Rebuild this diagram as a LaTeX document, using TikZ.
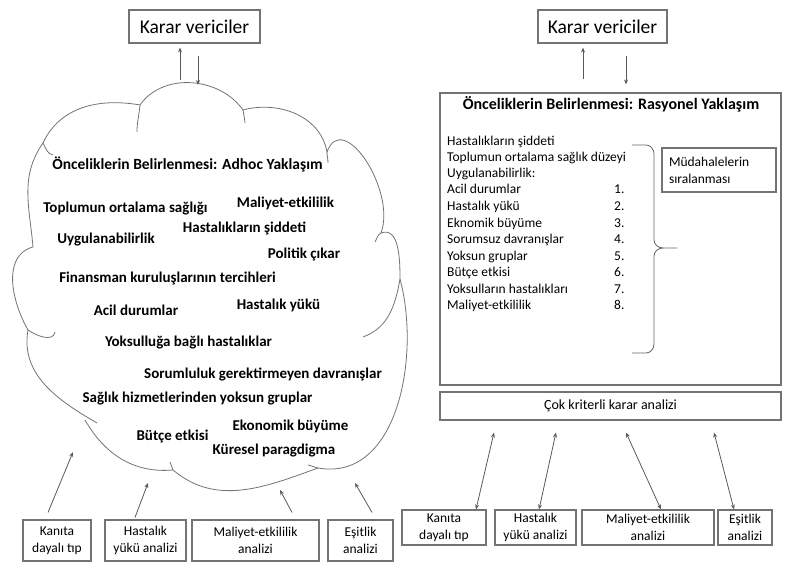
\documentclass[tikz,border=0pt]{standalone}
\usepackage{fontspec}
\setmainfont{Carlito}
\usetikzlibrary{arrows.meta}

\begin{document}
\begin{tikzpicture}[x = 1pt, y = 1pt,
  box/.style = {draw = black!55, line width = 1.1pt, align = center, inner sep = 2pt},
  cloudline/.style = {draw = black!55, line width = 0.8pt},
  arr/.style = {draw = black!65, line width = 0.8pt, -{Stealth[length = 5pt, width = 4pt]}},
  dblarr/.style = {draw = black!65, line width = 0.8pt, {Stealth[length = 5pt, width = 4pt]}-{Stealth[length = 5pt, width = 4pt]}},
  adhoc/.style = {inner sep = 0pt, font = \fontsize{15}{17}\selectfont\bfseries},
  item/.style = {anchor = west, inner sep = 0pt, text height = 10pt, text depth = 3.5pt, font = \fontsize{13.5}{15}\selectfont},
  small/.style = {font = \fontsize{13.5}{17}\selectfont}]

\useasboundingbox (0,0) rectangle (788,564);

% Ad hoc yaklasim
\node[box, minimum width = 131, minimum height = 33, font = \fontsize{19.5}{22}\selectfont] (kvl) at (194.5,537.5) {Karar vericiler};
\coordinate (ctop) at (194.5,476);
\draw[arr] ([xshift = -14.5pt, yshift = 8pt]ctop) -- ([xshift = -14.5pt, yshift = -4pt]kvl.south);
\draw[arr] ([xshift = 3.5pt, yshift = -12pt]kvl.south) -- ([xshift = 3.5pt, yshift = 3pt]ctop);

% bulut
\draw[cloudline] (43,421) to[out = 65, in = 170] (140,459)
  to[out = 55, in = 125] (243,454)
  to[out = 15, in = 100] (327,412)
  to[out = 70, in = 70, looseness = 1.2] (381,331)
  to[out = 20, in = 90] (400,285)
  to[out = -75, in = -10] (318,96)
  to[out = -160, in = -40] (173,94)
  to[out = 185, in = -60] (85,144);
\draw[cloudline] (97,141) to[out = 150, in = -100] (28,234)
  to[out = 120, in = 195] (33,317)
  to[out = 95, in = -125] (43,421);
\draw[cloudline] (43,421) to[out = -60, in = 170] (53,409);
\draw[cloudline] (140,459) to[out = -95, in = 90] (137,432);
\draw[cloudline] (243,454) to[out = -80, in = 95] (245,441);
\draw[cloudline] (327,412) to[out = -90, in = 90] (328,401);
\draw[cloudline] (381,331) to[out = -150, in = 60] (375,322);
\draw[cloudline] (400,285) to[out = -100, in = 20] (363,227);
\draw[cloudline] (318,96) to[out = 170, in = -10] (308,99);
\draw[cloudline] (173,94) to[out = 100, in = -80] (170,102);
\draw[cloudline] (28,234) to[out = -35, in = -100] (55,232);

\node[adhoc, font = \fontsize{15.5}{17}\selectfont\bfseries] (adt) at (187.5,399) {Önceliklerin Belirlenmesi: Adhoc Yaklaşım};
\node[adhoc] (a1) at (125.5,355) {Toplumun ortalama sağlığı};
\node[adhoc] (a2) at (285.5,361) {Maliyet-etkililik};
\node[adhoc] (a3) at (244.5,336) {Hastalıkların şiddeti};
\node[adhoc] (a4) at (106,324) {Uygulanabilirlik};
\node[adhoc] (a5) at (304,310) {Politik çıkar};
\node[adhoc] (a6) at (167.5,285) {Finansman kuruluşlarının tercihleri};
\node[adhoc] (a7) at (136,254) {Acil durumlar};
\node[adhoc] (a8) at (278.5,259) {Hastalık yükü};
\node[adhoc] (a9) at (188.5,221) {Yoksulluğa bağlı hastalıklar};
\node[adhoc] (a10) at (263,189) {Sorumluluk gerektirmeyen davranışlar};
\node[adhoc] (a11) at (197.5,165) {Sağlık hizmetlerinden yoksun gruplar};
\node[adhoc] (a12) at (290.5,138) {Ekonomik büyüme};
\node[adhoc] (a13) at (172.5,127) {Bütçe etkisi};
\node[adhoc] (a14) at (274,113) {Küresel paragdigma};

\node[box, small, minimum width = 68, minimum height = 41] (lb1) at (57,23.5) {Kanıta\\dayalı tıp};
\node[box, small, minimum width = 81, minimum height = 41] (lb2) at (145.5,23.5) {Hastalık\\yükü analizi};
\node[box, small, minimum width = 127, minimum height = 41] (lb3) at (255.5,23.5) {Maliyet-etkililik\\analizi};
\node[box, small, minimum width = 65, minimum height = 41] (lb4) at (360.5,23.5) {Eşitlik\\analizi};
\coordinate (in1) at (73,112);
\coordinate (in2) at (148,81);
\coordinate (in3) at (280,74);
\coordinate (in4) at (355,81);
\draw[arr] ([xshift = -9pt, yshift = 7pt]lb1.north) -- (in1);
\draw[arr] ([xshift = -10.5pt, yshift = 2pt]lb2.north) -- (in2);
\draw[arr] ([xshift = 36.5pt, yshift = 7pt]lb3.north) -- (in3);
\draw[arr] ([xshift = 11.5pt, yshift = 7pt]lb4.north) -- (in4);

% Rasyonel yaklasim
\node[box, minimum width = 129, minimum height = 33, font = \fontsize{19.5}{22}\selectfont] (kvr) at (602.5,537.5) {Karar vericiler};
\node[box, minimum width = 341, minimum height = 292] (rat) at (610.5,325) {};
\draw[arr] ([xshift = -27.5pt, yshift = 13pt]rat.north) -- ([xshift = -19.5pt, yshift = -4pt]kvr.south);
\draw[arr] ([xshift = 23.5pt, yshift = -12pt]kvr.south) -- ([xshift = 15.5pt, yshift = 8pt]rat.north);

\node[inner sep = 0pt, font = \fontsize{16}{18}\selectfont\bfseries] (rtt) at (611,460) {Önceliklerin Belirlenmesi: Rasyonel Yaklaşım};
\node[item] (r1) at (447,422) {Hastalıkların şiddeti};
\node[item] (r2) at (447,406) {Toplumun ortalama sağlık düzeyi};
\node[item] (r3) at (447,390) {Uygulanabilirlik:};
\node[item] (r4) at (447,374) {Acil durumlar};
\node[item] (r5) at (447,357) {Hastalık yükü};
\node[item] (r6) at (447,340) {Eknomik büyüme};
\node[item] (r7) at (447,323.5) {Sorumsuz davranışlar};
\node[item] (r8) at (447,307) {Yoksun gruplar};
\node[item] (r9) at (447,290.5) {Bütçe etkisi};
\node[item] (r10) at (447,274) {Yoksulların hastalıkları};
\node[item] (r11) at (447,257.5) {Maliyet-etkililik};
\node[item] (n1) at (614,374) {1.};
\node[item] (n2) at (614,357) {2.};
\node[item] (n3) at (614,340) {3.};
\node[item] (n4) at (614,323.5) {4.};
\node[item] (n5) at (614,307) {5.};
\node[item] (n6) at (614,290.5) {6.};
\node[item] (n7) at (614,274) {7.};
\node[item] (n8) at (614,257.5) {8.};

% kume parantezi
\draw[draw = black!60, line width = 0.8pt] (632,419) -- (646,419) to[out = 0, in = 90] (654,410) -- (654,324)
  to[out = -90, in = 180] (663,316) -- (677,316);
\draw[draw = black!60, line width = 0.8pt] (663,316) to[out = 180, in = 90] (654,308) -- (654,220)
  to[out = -90, in = 0] (646,211) -- (632,211);

\node[box, minimum width = 114, minimum height = 44, text width = 100, align = left, inner sep = 7pt, font = \fontsize{13.5}{17}\selectfont] (sira) at (719,394) {Müdahalelerin\\sıralanması};

\node[box, minimum width = 341, minimum height = 28, font = \fontsize{14}{16}\selectfont] (mcda) at (610.5,158) {Çok kriterli karar analizi};

\node[box, small, minimum width = 84, minimum height = 35] (rb1) at (444,36.5) {Kanıta\\dayalı tıp};
\node[box, small, minimum width = 81, minimum height = 35] (rb2) at (535.5,36.5) {Hastalık\\yükü analizi};
\node[box, small, minimum width = 132, minimum height = 35] (rb3) at (648,36.5) {Maliyet-etkililik\\analizi};
\node[box, small, minimum width = 54, minimum height = 35] (rb4) at (745,36.5) {Eşitlik\\analizi};
\draw[dblarr] ([xshift = -116.5pt, yshift = -12pt]mcda.south) -- ([xshift = 32pt]rb1.north);
\draw[dblarr] ([xshift = -54.5pt, yshift = -12pt]mcda.south) -- ([xshift = 3.5pt]rb2.north);
\draw[dblarr] ([xshift = 15.5pt, yshift = -12pt]mcda.south) -- ([xshift = 13pt]rb3.north);
\draw[dblarr] ([xshift = 103.5pt, yshift = -12pt]mcda.south) -- ([xshift = -11pt]rb4.north);
\end{tikzpicture}
\end{document}
